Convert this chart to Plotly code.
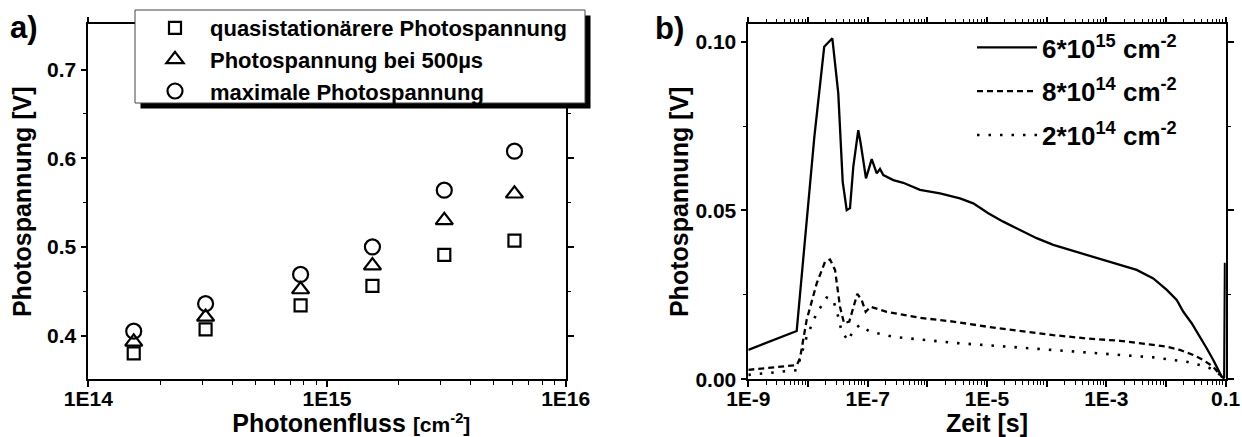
import plotly.graph_objects as go

# ---------------- data: panel a) ----------------
flux = [1.55e14, 3.1e14, 7.75e14, 1.55e15, 3.1e15, 6.1e15]
v_quasi = [0.380, 0.407, 0.434, 0.456, 0.491, 0.507]
v_500us = [0.393, 0.421, 0.452, 0.479, 0.530, 0.560]
v_max = [0.405, 0.436, 0.469, 0.500, 0.564, 0.608]
names_a = ["quasistationärere Photospannung", "Photospannung bei 500µs", "maximale Photospannung"]

# ---------------- data: panel b) ----------------
t_6e15 = [1.0e-9, 6.47e-9, 1.28e-8, 1.87e-8, 2.56e-8, 3.22e-8, 3.82e-8, 4.46e-8, 5.06e-8,
          5.75e-8, 6.96e-8, 7.64e-8, 9.38e-8, 1.17e-7, 1.42e-7, 1.61e-7, 1.83e-7, 2.69e-7,
          3.95e-7, 7.53e-7, 1.63e-6, 3.52e-6, 5.89e-6, 1.05e-5, 1.87e-5, 3.57e-5, 6.79e-5,
          1.29e-4, 2.45e-4, 4.68e-4, 8.87e-4, 1.69e-3, 3.22e-3, 6.11e-3, 1.03e-2, 1.51e-2,
          1.95e-2, 2.69e-2, 3.71e-2, 4.80e-2, 6.19e-2, 7.50e-2, 8.55e-2, 9.44e-2, 9.72e-2,
          9.93e-2]
v_6e15 = [0.0087, 0.0143, 0.0719, 0.0985, 0.1010, 0.0847, 0.0585, 0.0501, 0.0507,
          0.0630, 0.0738, 0.0699, 0.0595, 0.0652, 0.0610, 0.0623, 0.0605, 0.0590,
          0.0582, 0.0561, 0.0551, 0.0536, 0.0521, 0.0492, 0.0467, 0.0442, 0.0418,
          0.0398, 0.0383, 0.0368, 0.0353, 0.0339, 0.0324, 0.0299, 0.0265, 0.0235,
          0.0200, 0.0166, 0.0126, 0.0092, 0.0057, 0.0028, 0.0008, 0.0003, 0.0345,
          0.0250]

t_8e14 = [1.0e-9, 6.47e-9, 7.35e-9, 9.51e-9, 1.40e-8, 1.93e-8, 2.34e-8, 2.84e-8, 3.44e-8,
          4.02e-8, 4.92e-8, 5.75e-8, 6.70e-8, 7.94e-8, 9.27e-8, 1.12e-7, 2.09e-7, 7.53e-7,
          2.72e-6, 9.89e-6, 3.57e-5, 1.29e-4, 4.68e-4, 1.69e-3, 6.11e-3, 1.03e-2, 1.71e-2,
          2.86e-2, 4.21e-2, 6.19e-2, 8.55e-2]
v_8e14 = [0.0028, 0.0042, 0.0062, 0.0176, 0.0284, 0.0348, 0.0355, 0.0324, 0.0215,
          0.0166, 0.0171, 0.0215, 0.0253, 0.0235, 0.0200, 0.0215, 0.0200, 0.0182,
          0.0171, 0.0156, 0.0143, 0.0131, 0.0121, 0.0114, 0.0102, 0.0097, 0.0087,
          0.0072, 0.0057, 0.0037, 0.0008]

t_2e14 = [1.0e-9, 6.47e-9, 9.51e-9, 1.40e-8, 2.06e-8, 2.65e-8, 3.22e-8, 3.67e-8, 4.74e-8,
          5.75e-8, 7.45e-8, 1.09e-7, 2.69e-7, 7.53e-7, 2.72e-6, 3.57e-5, 4.68e-4, 6.11e-3,
          1.32e-2, 2.22e-2, 3.71e-2, 5.45e-2, 7.05e-2, 8.55e-2]
v_2e14 = [0.0013, 0.0027, 0.0126, 0.0196, 0.0242, 0.0235, 0.0185, 0.0141, 0.0114,
          0.0146, 0.0161, 0.0141, 0.0126, 0.0118, 0.0108, 0.0094, 0.0079, 0.0065,
          0.0057, 0.0052, 0.0042, 0.0033, 0.0023, 0.0008]
names_b = ["6*10<sup>15</sup> cm<sup>-2</sup>", "8*10<sup>14</sup> cm<sup>-2</sup>",
           "2*10<sup>14</sup> cm<sup>-2</sup>"]

# tick labels
xa_tickvals = [1e14, 1e15, 1e16]
xa_ticktext = ["1E14", "1E15", "1E16"]
ya_tickvals = [0.4, 0.5, 0.6, 0.7]
ya_ticktext = ["0.4", "0.5", "0.6", "0.7"]
xb_tickvals = [1e-9, 1e-8, 1e-7, 1e-6, 1e-5, 1e-4, 1e-3, 1e-2, 1e-1]
xb_ticktext = ["1E-9", "", "1E-7", "", "1E-5", "", "1E-3", "", "0.1"]
yb_tickvals = [0.0, 0.05, 0.10]
yb_ticktext = ["0.00", "0.05", "0.10"]

# ---------------- layout geometry (pixel -> paper, zero margins) ----------------
W, H = 1242, 437
FRAME = dict(x0=135, x1=585, y0=10, y1=103)   # legend frame of panel a), in pixels
SHADOW = 5.5                                  # drop-shadow offset, in pixels


def px_x(x):
    return x / W


def px_y(y):
    return 1 - y / H


def bold(labels):
    return ["<b>%s</b>" % s if s else "" for s in labels]


FONT = "Liberation Sans, Arial, Helvetica, sans-serif"
tickfont = dict(family=FONT, size=21, color="black", weight="bold")
titlefont = dict(family=FONT, size=25, color="black", weight="bold")

fig = go.Figure()

sym = ["square-open", "triangle-up-open", "circle-open"]
sizes = [12, 15, 15]
for vals, nm, s, sz in zip([v_quasi, v_500us, v_max], names_a, sym, sizes):
    fig.add_trace(go.Scatter(
        x=flux, y=vals, mode="markers", name=nm,
        marker=dict(symbol=s, size=sz, color="black", line=dict(color="black", width=2.2)),
        xaxis="x", yaxis="y", legend="legend"))

dashes = ["solid", "6px,4px", "2.5px,9px"]
widths = [2.3, 2.3, 2.6]
for i, (t, v, nm, d, w) in enumerate(zip([t_6e15, t_8e14, t_2e14], [v_6e15, v_8e14, v_2e14],
                                          names_b, dashes, widths)):
    fig.add_trace(go.Scatter(
        x=t, y=v, mode="lines", name=nm, legendgroup="g%d" % i,
        line=dict(color="black", width=w, dash=d),
        xaxis="x2", yaxis="y2", legend="legend2"))

# drop shadow of the legend frame (decoration on a hidden full-figure pixel axis)
f, o = FRAME, SHADOW
fig.add_trace(go.Scatter(
    x=[f["x1"], f["x1"] + o, f["x1"] + o, f["x0"] + o, f["x0"] + o, f["x1"], f["x1"]],
    y=[f["y0"] + o, f["y0"] + o, f["y1"] + o, f["y1"] + o, f["y1"], f["y1"], f["y0"] + o],
    mode="lines", fill="toself", fillcolor="black", line=dict(width=0, color="black"),
    hoverinfo="skip", showlegend=False, xaxis="x3", yaxis="y3"))


def minor_log(e0, e1):
    return [k * 10.0 ** e for e in range(e0, e1) for k in range(2, 10)]


common = dict(showline=True, linecolor="black", linewidth=1.6, mirror="ticks",
              ticks="outside", ticklen=6, tickwidth=1.5, tickcolor="black",
              showgrid=False, zeroline=False, tickfont=tickfont, automargin=False)
minor_style = dict(ticks="outside", ticklen=3.5, tickwidth=1.2, tickcolor="black")
ydom = [px_y(379.3), px_y(24.3)]

fig.update_layout(
    width=W, height=H, margin=dict(l=0, r=0, t=0, b=0, autoexpand=False),
    paper_bgcolor="white", plot_bgcolor="rgba(0,0,0,0)",
    xaxis=dict(domain=[px_x(88.3), px_x(565.7)], type="log", range=[14, 16], anchor="y",
               tickvals=xa_tickvals, ticktext=bold(xa_ticktext), ticklabelstandoff=-6,
               minor=dict(tickvals=minor_log(14, 16), **minor_style),
               title=dict(text="&nbsp;" * 7 + "Photonenfluss <span style='font-size:21px'>[cm<sup>-2</sup>]</span>",
                          font=titlefont, standoff=0),
               **common),
    yaxis=dict(domain=ydom, range=[0.3507, 0.7511], anchor="x",
               tickvals=ya_tickvals, ticktext=bold(ya_ticktext),
               minor=dict(tickvals=[0.45, 0.55, 0.65], **minor_style),
               title=dict(text="Photospannung [V]", font=titlefont, standoff=8),
               **common),
    xaxis2=dict(domain=[px_x(748.3), px_x(1225.7)], type="log", range=[-9, -1], anchor="y2",
                tickvals=xb_tickvals, ticktext=bold(xb_ticktext), ticklabelstandoff=-6,
                minor=dict(tickvals=minor_log(-9, -1), **minor_style),
                title=dict(text="Zeit [s]", font=titlefont, standoff=0),
                **common),
    yaxis2=dict(domain=ydom, range=[0, 0.10515], anchor="x2",
                tickvals=yb_tickvals, ticktext=bold(yb_ticktext),
                minor=dict(tickvals=[0.025, 0.075], **minor_style),
                title=dict(text="Photospannung [V]", font=titlefont, standoff=0),
                **common),
    xaxis3=dict(domain=[0, 1], range=[0, W], anchor="y3", visible=False, fixedrange=True),
    yaxis3=dict(domain=[0, 1], range=[H, 0], anchor="x3", visible=False, fixedrange=True),
    legend=dict(x=px_x(140), y=px_y(7), xanchor="left", yanchor="top",
                bgcolor="rgba(255,255,255,0)", borderwidth=0, itemwidth=60,
                font=dict(family=FONT, size=22, color="black", weight="bold")),
    legend2=dict(x=px_x(972), y=px_y(24), xanchor="left", yanchor="top",
                 bgcolor="rgba(255,255,255,0)", borderwidth=0, itemwidth=60,
                 tracegroupgap=7,
                 font=dict(family=FONT, size=26, color="black", weight="bold")),
    shapes=[
        # legend frame of panel a)
        dict(type="rect", xref="paper", yref="paper", layer="above",
             x0=px_x(FRAME["x0"]), x1=px_x(FRAME["x1"]),
             y0=px_y(FRAME["y1"]), y1=px_y(FRAME["y0"]),
             fillcolor="#ffffff", line=dict(color="#444444", width=1)),
    ],
    annotations=[
        dict(text="a)", x=px_x(24), y=px_y(27), xref="paper", yref="paper",
             xanchor="center", yanchor="middle", showarrow=False,
             font=dict(family=FONT, size=31, color="black", weight="bold")),
        dict(text="b)", x=px_x(670), y=px_y(28), xref="paper", yref="paper",
             xanchor="center", yanchor="middle", showarrow=False,
             font=dict(family=FONT, size=31, color="black", weight="bold")),
    ],
)

fig.write_html("out.html", config={"displayModeBar": False},
               post_script="document.body.style.margin='0px';document.body.style.padding='0px';")
